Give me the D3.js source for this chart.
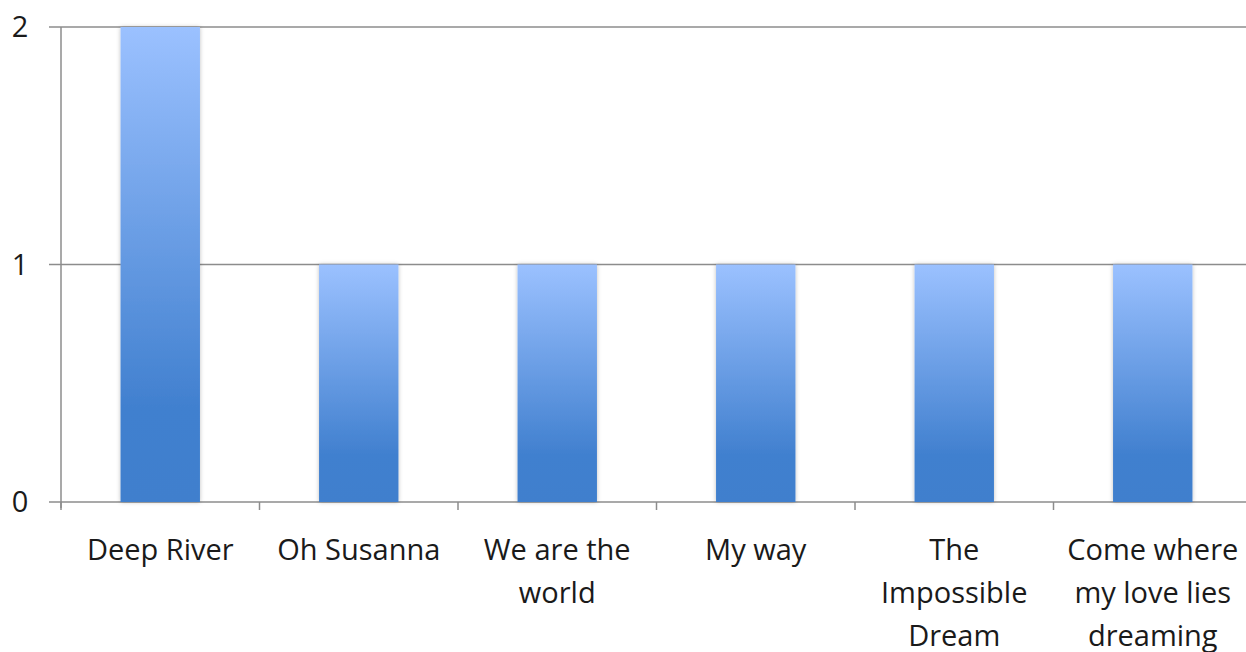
<!DOCTYPE html>
<html>
<head>
<meta charset="utf-8">
<script src="https://cdn.jsdelivr.net/npm/d3@7"></script>
<style>
  body { margin: 0; background: #fff; }
  svg { display: block; }
  text { font-family: "Open Sans", "Liberation Sans", sans-serif; fill: #1a1a1a; }
</style>
</head>
<body>
<div id="chart"></div>
<script>
// Chart data
const categories = ['Deep River', 'Oh Susanna', 'We are the world', 'My way', 'The Impossible Dream', 'Come where my love lies dreaming'];
const labelLines = [
    ['Deep River'],
    ['Oh Susanna'],
    ['We are the', 'world'],
    ['My way'],
    ['The', 'Impossible', 'Dream'],
    ['Come where', 'my love lies', 'dreaming']
];
const values = [2, 1, 1, 1, 1, 1];
const yTicks = [0, 1, 2];

const width = 1246, height = 652;
const margin = { top: 27, right: -6, bottom: 150, left: 61 };

const svg = d3.select('#chart')
    .append('svg')
    .attr('width', width)
    .attr('height', height);

// Gradient + soft shadow for the bars
const defs = svg.append('defs');
const grad = defs.append('linearGradient')
    .attr('id', 'barGrad')
    .attr('x1', 0).attr('y1', 0).attr('x2', 0).attr('y2', 1);
grad.append('stop').attr('offset', '0%').attr('stop-color', '#9bc1ff');
grad.append('stop').attr('offset', '80%').attr('stop-color', '#4180cf');
grad.append('stop').attr('offset', '100%').attr('stop-color', '#3f7fcd');

const shadow = defs.append('filter')
    .attr('id', 'barShadow')
    .attr('x', '-20%').attr('y', '-5%').attr('width', '140%').attr('height', '110%');
shadow.append('feDropShadow')
    .attr('dx', 0).attr('dy', 0)
    .attr('stdDeviation', 2)
    .attr('flood-color', '#000')
    .attr('flood-opacity', 0.25);

const x = d3.scaleBand()
    .domain(categories)
    .range([margin.left, width - margin.right])
    .paddingInner(0.6)
    .paddingOuter(0.3);

const xOuter = d3.scaleBand()
    .domain(categories)
    .range([margin.left, width - margin.right]);

const y = d3.scaleLinear()
    .domain([0, 2])
    .range([height - margin.bottom, margin.top]);

// Horizontal gridlines
svg.append('g')
    .selectAll('line')
    .data(yTicks)
    .join('line')
    .attr('x1', margin.left - 12)
    .attr('x2', width)
    .attr('y1', d => y(d))
    .attr('y2', d => y(d))
    .attr('stroke', '#8c8c8c')
    .attr('stroke-width', 1.5);

// Y axis line
svg.append('line')
    .attr('x1', margin.left).attr('x2', margin.left)
    .attr('y1', y(2)).attr('y2', y(0) + 6)
    .attr('stroke', '#8c8c8c')
    .attr('stroke-width', 1.5);

// Category ticks
svg.append('g')
    .selectAll('line')
    .data(categories)
    .join('line')
    .attr('x1', d => xOuter(d))
    .attr('x2', d => xOuter(d))
    .attr('y1', y(0))
    .attr('y2', y(0) + 8)
    .attr('stroke', '#8c8c8c')
    .attr('stroke-width', 1.5);

// Y tick labels
svg.append('g')
    .selectAll('text')
    .data(yTicks)
    .join('text')
    .attr('x', 20)
    .attr('y', d => y(d))
    .attr('dy', '0.35em')
    .attr('text-anchor', 'middle')
    .attr('font-size', '29px')
    .text(d => d);

// Bars
svg.append('g')
    .selectAll('rect')
    .data(values)
    .join('rect')
    .attr('x', (d, i) => x(categories[i]))
    .attr('width', x.bandwidth())
    .attr('y', d => y(d))
    .attr('height', d => y(0) - y(d))
    .attr('fill', 'url(#barGrad)')
    .attr('filter', 'url(#barShadow)');

// Category labels
const labels = svg.append('g')
    .selectAll('text')
    .data(categories)
    .join('text')
    .attr('text-anchor', 'middle')
    .attr('font-size', '29px')
    .attr('x', d => xOuter(d) + xOuter.bandwidth() / 2)
    .attr('y', 550);

labels.selectAll('tspan')
    .data((d, i) => labelLines[i])
    .join('tspan')
    .attr('x', function () { return d3.select(this.parentNode).attr('x'); })
    .attr('dy', (d, i) => i === 0 ? '0.35em' : '43px')
    .text(d => d);
</script>
</body>
</html>
